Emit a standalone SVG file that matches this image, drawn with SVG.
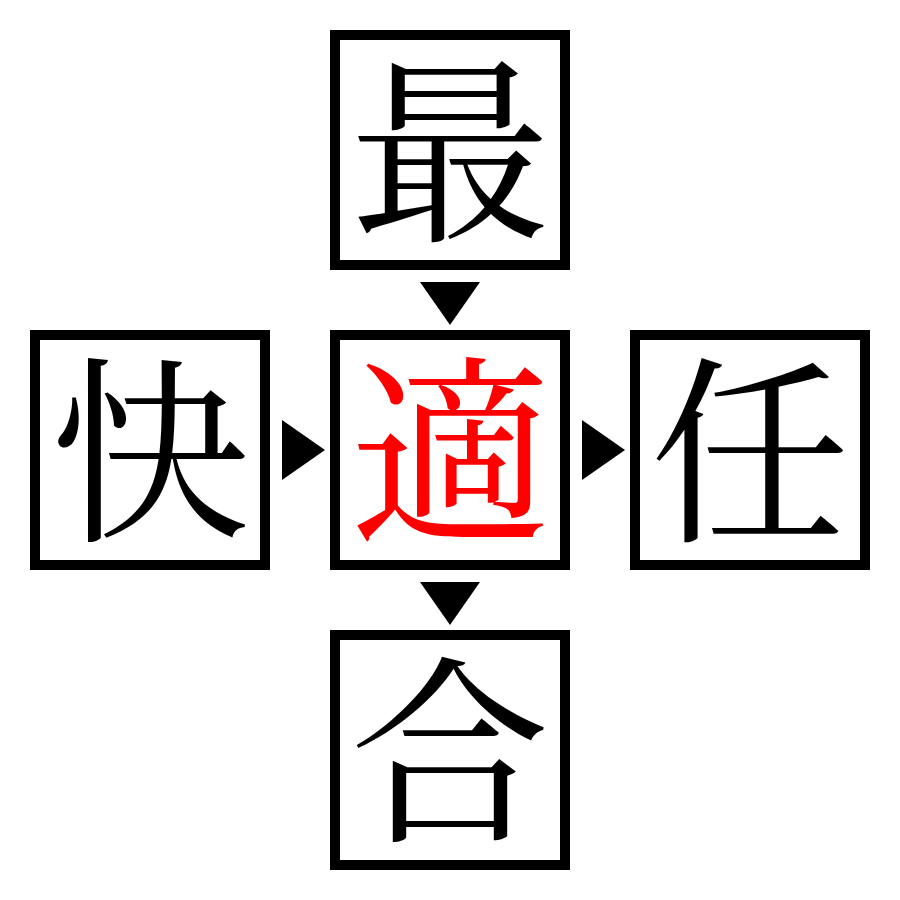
<svg xmlns="http://www.w3.org/2000/svg" width="900" height="900" viewBox="0 0 900 900">
<style>
.box{fill:#fff;stroke:#000;stroke-width:10}
.ch{font-family:"Noto Serif CJK JP","Noto Serif CJK SC","Liberation Serif","Noto Sans CJK JP",serif;font-size:200px;text-anchor:middle;fill:#000}
.red{fill:#ff0000}
.arr{fill:#000}
</style>
<rect width="900" height="900" fill="#fff"/>
<g id="node-top"><rect class="box" x="335" y="35" width="230" height="230"/><text class="ch" x="450" y="226">最</text></g>
<g id="node-left"><rect class="box" x="35" y="335" width="230" height="230"/><text class="ch" x="150" y="526">快</text></g>
<g id="node-center"><rect class="box" x="335" y="335" width="230" height="230"/><text class="ch red" x="450" y="526">適</text></g>
<g id="node-right"><rect class="box" x="635" y="335" width="230" height="230"/><text class="ch" x="750" y="526">任</text></g>
<g id="node-bottom"><rect class="box" x="335" y="635" width="230" height="230"/><text class="ch" x="450" y="826">合</text></g>
<g id="connectors">
<polygon class="arr" points="420,282 480,282 450,325"/>
<polygon class="arr" points="282,420 325,450 282,480"/>
<polygon class="arr" points="582,420 625,450 582,480"/>
<polygon class="arr" points="420,582 480,582 450,625"/>
</g>
</svg>
